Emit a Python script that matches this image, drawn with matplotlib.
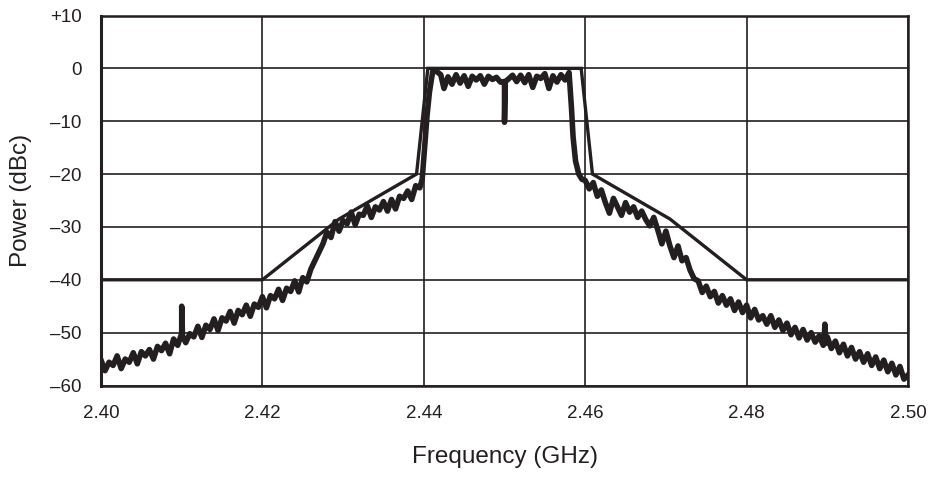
import numpy as np
import matplotlib
matplotlib.use("Agg")
import matplotlib.pyplot as plt
from matplotlib import font_manager

# ---------------- data ----------------
# Spectral mask (GHz, dBc)
mask_freq = [2.400, 2.420, 2.4295, 2.4391, 2.4405, 2.4595, 2.4609, 2.4705, 2.480, 2.500]
mask_level = [-40, -40, -28.5, -20, 0, 0, -20, -28.5, -40, -40]

# Measured spectrum, lower tail: 2.4000 ... 2.4395 GHz in 0.5 MHz steps
left_tail_start, left_tail_step = 2.4000, 0.0005
left_tail_level = [
    -55.2, -57.2, -55.6, -56.2, -54.4, -56.8, -55.0, -55.6, -53.8, -55.9,
    -53.6, -54.4, -53.2, -55.0, -52.6, -53.4, -52.0, -54.0, -51.2, -52.4,
    -50.3, -51.9, -50.2, -50.8, -48.8, -50.9, -48.6, -49.4, -47.4, -49.6,
    -47.2, -47.8, -46.0, -48.2, -45.8, -46.6, -44.8, -46.9, -44.6, -45.2,
    -43.2, -45.3, -43.0, -43.6, -41.8, -43.9, -41.6, -42.2, -40.2, -42.3,
    -39.6, -40.4, -38.0, -36.4, -34.8, -33.2, -31.0, -32.0, -29.0, -30.8,
    -28.8, -29.4, -27.2, -29.6, -27.6, -27.8, -26.0, -28.2, -26.2, -26.8,
    -25.2, -27.0, -24.8, -26.6, -24.2, -24.6, -23.2, -24.8, -22.2, -22.6,
]

# Lower skirt
left_skirt_freq = [2.4398, 2.4401, 2.4404, 2.4407, 2.4411, 2.4416, 2.4421]
left_skirt_level = [-21.0, -15.0, -9.0, -4.5, -0.6, -0.6, -1.2]

# Passband: 2.4425 ... 2.4575 GHz in 0.5 MHz steps
pass_start, pass_step = 2.4425, 0.0005
pass_level = [
    -3.8, -1.6, -3.0, -1.2, -2.8, -1.4, -3.4, -1.5, -2.2, -1.4,
    -3.0, -1.5, -2.1, -1.7, -2.6, -2.6, -2.0, -1.3, -2.5, -1.3,
    -2.7, -1.2, -3.6, -1.5, -1.9, -1.0, -3.8, -1.4, -2.6, -1.2,
    -2.2,
]

# Upper skirt
right_skirt_freq = [2.4580, 2.4583, 2.4585, 2.4588, 2.4592, 2.4596]
right_skirt_level = [-0.8, -7.5, -13.0, -17.5, -20.0, -21.0]

# Upper tail: 2.4600 ... 2.5000 GHz in 0.5 MHz steps
right_tail_start, right_tail_step = 2.4600, 0.0005
right_tail_level = [
    -21.2, -22.8, -21.6, -24.2, -23.0, -25.4, -27.4, -24.6, -26.2, -27.8,
    -25.4, -27.2, -26.2, -28.2, -27.0, -28.6, -29.8, -28.2, -30.6, -33.2,
    -30.8, -33.6, -35.8, -33.6, -36.4, -35.8, -38.2, -39.8, -40.2, -42.4,
    -41.2, -43.2, -42.2, -44.4, -43.0, -44.8, -43.6, -45.8, -44.2, -46.2,
    -44.8, -47.2, -45.6, -47.6, -46.8, -48.4, -46.8, -49.0, -47.6, -49.6,
    -48.2, -50.4, -49.0, -51.0, -49.4, -51.4, -50.0, -51.8, -50.6, -52.4,
    -50.8, -53.0, -51.6, -53.8, -52.2, -54.4, -52.8, -55.0, -53.6, -55.6,
    -54.0, -56.2, -54.6, -56.8, -55.2, -57.4, -55.8, -58.0, -56.4, -58.8,
    -58.0,
]

# Narrow spurs / notch
spur_freq = [2.4099, 2.4100, 2.4101, 2.4499, 2.4500, 2.4501, 2.4896, 2.4897, 2.4898]
spur_level = [-50.6, -45.0, -50.6, -2.5, -10.2, -2.5, -52.0, -48.4, -52.0]

x_ticks = [2.40, 2.42, 2.44, 2.46, 2.48, 2.50]
x_tick_labels = ["2.40", "2.42", "2.44", "2.46", "2.48", "2.50"]
y_ticks = [10, 0, -10, -20, -30, -40, -50, -60]
y_tick_labels = ["+10", "0", "\u201310", "\u201320", "\u201330", "\u201340", "\u201350", "\u201360"]

# ---------------- assemble trace ----------------
def seg(start, step, levels):
    f = start + step * np.arange(len(levels))
    return list(np.round(f, 5)), list(levels)

f_all, l_all = [], []
for f, l in [seg(left_tail_start, left_tail_step, left_tail_level),
             (left_skirt_freq, left_skirt_level),
             seg(pass_start, pass_step, pass_level),
             (right_skirt_freq, right_skirt_level),
             seg(right_tail_start, right_tail_step, right_tail_level),
             (spur_freq, spur_level)]:
    f_all += list(f)
    l_all += list(l)
order = np.argsort(np.array(f_all), kind="stable")
trace_freq = np.array(f_all)[order]
trace_level = np.array(l_all)[order]

# ---------------- fonts ----------------
names = {f.name for f in font_manager.fontManager.ttflist}
family = ["Liberation Sans Narrow", "Liberation Sans", "DejaVu Sans"]
family = [f for f in family if f in names] or ["DejaVu Sans"]
plt.rcParams["font.family"] = family

INK = "#231f20"

fig = plt.figure(figsize=(9.29, 4.78), dpi=100)
ax = fig.add_axes([101 / 929, 1 - 385.5 / 478, (908 - 101) / 929, (385.5 - 15.5) / 478])

ax.set_xlim(2.40, 2.50)
ax.set_ylim(-60, 10)
ax.set_xticks(x_ticks)
ax.set_xticklabels(x_tick_labels)
ax.set_yticks(y_ticks)
ax.set_yticklabels(y_tick_labels)
ax.tick_params(length=0, labelsize=13.5, colors=INK)
ax.tick_params(axis="x", pad=14)
ax.tick_params(axis="y", pad=14)
ax.grid(True, color=INK, linewidth=1.2)
ax.set_axisbelow(True)
for name, sp in ax.spines.items():
    sp.set_color(INK)
    sp.set_linewidth(1.8)
ax.spines["left"].set_linewidth(2.2)

ax.plot(trace_freq, trace_level, color=INK, linewidth=4.0, solid_joinstyle="round", zorder=3)
ax.plot(mask_freq, mask_level, color=INK, linewidth=2.4, solid_joinstyle="miter", zorder=4)

ax.set_xlabel("Frequency (GHz)", fontsize=17.5, color=INK, labelpad=17)
ax.set_ylabel("Power (dBc)", fontsize=17.5, color=INK, labelpad=13)

fig.savefig("out.png", dpi=100)
